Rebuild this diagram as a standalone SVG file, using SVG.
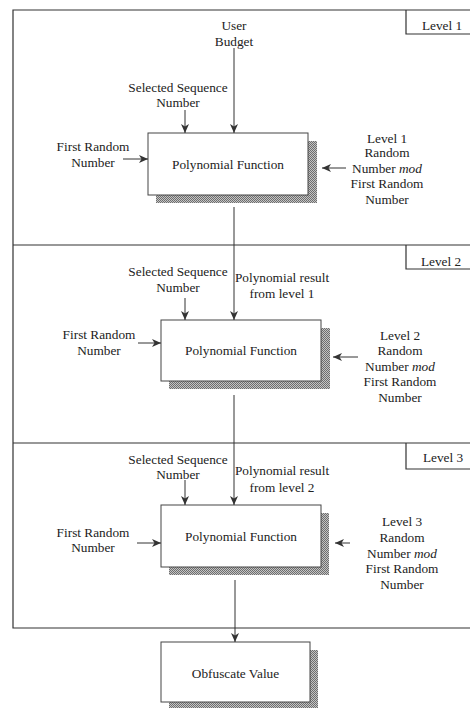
<svg xmlns="http://www.w3.org/2000/svg" width="470" height="708" viewBox="0 0 470 708">
  <style>
    text { font-family: "Liberation Serif", "Times New Roman", serif; font-size: 13.3px; fill: #222; text-anchor: middle; }
    .frame { fill: none; stroke: #333; stroke-width: 1.2; }
    .box { fill: #fff; stroke: #444; stroke-width: 1; }
    .shadow { fill: url(#hatch); }
    .conn { fill: none; stroke: #333; stroke-width: 1; marker-end: url(#arrow); }
  </style>
  <defs>
    <pattern id="hatch" width="2" height="2" patternUnits="userSpaceOnUse">
      <rect width="2" height="2" fill="#c4c4c4"/>
      <rect width="1" height="1" fill="#6e6e6e"/>
      <rect x="1" y="1" width="1" height="1" fill="#6e6e6e"/>
    </pattern>
    <marker id="arrow" markerUnits="userSpaceOnUse" markerWidth="9" markerHeight="8" refX="9" refY="4" orient="auto">
      <path d="M0,0 L9,4 L0,8 L2.5,4 z" fill="#333"/>
    </marker>
  </defs>

  <rect width="470" height="708" fill="#fff"/>

  <!-- level frames -->
  <g id="frame">
    <path class="frame" d="M470,10 H13 V628 H470"/>
    <path class="frame" d="M13,245 H470"/>
    <path class="frame" d="M13,443 H470"/>
  </g>
  <g id="level1-tag">
    <path class="frame" d="M406,10 V34 H470"/>
    <text x="442" y="29.5">Level 1</text>
  </g>
  <g id="level2-tag">
    <path class="frame" d="M406,245 V269 H470"/>
    <text x="441" y="265.5">Level 2</text>
  </g>
  <g id="level3-tag">
    <path class="frame" d="M406,443 V469 H470"/>
    <text x="443" y="461.5">Level 3</text>
  </g>

  <!-- function boxes -->
  <g id="poly1">
    <rect class="shadow" x="156" y="141" width="161" height="62"/>
    <rect class="box" x="148" y="133" width="160" height="62"/>
    <text x="228" y="168.5">Polynomial Function</text>
  </g>
  <g id="poly2">
    <rect class="shadow" x="169" y="328" width="161" height="61"/>
    <rect class="box" x="161" y="320" width="160" height="61"/>
    <text x="241" y="354.5">Polynomial Function</text>
  </g>
  <g id="poly3">
    <rect class="shadow" x="169" y="513" width="160" height="62"/>
    <rect class="box" x="161" y="505" width="160" height="62"/>
    <text x="241" y="540.5">Polynomial Function</text>
  </g>
  <g id="obfuscate">
    <rect class="shadow" x="169" y="650" width="149" height="58"/>
    <rect class="box" x="161" y="642" width="149" height="60"/>
    <text x="235.5" y="677.5">Obfuscate Value</text>
  </g>

  <!-- input labels -->
  <g id="level1-inputs">
    <text x="234" y="29.5">User</text>
    <text x="234" y="46">Budget</text>
    <text x="178" y="91.5">Selected Sequence</text>
    <text x="178" y="106.5">Number</text>
    <text x="93" y="151">First Random</text>
    <text x="93" y="167">Number</text>
    <text x="387" y="142.5">Level 1</text>
    <text x="387" y="156.5">Random</text>
    <text x="387" y="172.5">Number <tspan font-style="italic">mod</tspan></text>
    <text x="387" y="188">First Random</text>
    <text x="387" y="204">Number</text>
  </g>
  <g id="level2-inputs">
    <text x="178" y="275.5">Selected Sequence</text>
    <text x="178" y="291.5">Number</text>
    <text x="282" y="281.5">Polynomial result</text>
    <text x="282" y="297.5">from level 1</text>
    <text x="99" y="338.5">First Random</text>
    <text x="99" y="354.5">Number</text>
    <text x="400" y="339.5">Level 2</text>
    <text x="400" y="355">Random</text>
    <text x="400" y="370.5">Number <tspan font-style="italic">mod</tspan></text>
    <text x="400" y="386">First Random</text>
    <text x="400" y="401.5">Number</text>
  </g>
  <g id="level3-inputs">
    <text x="178" y="463.5">Selected Sequence</text>
    <text x="178" y="478.5">Number</text>
    <text x="282" y="475">Polynomial result</text>
    <text x="282" y="491.5">from level 2</text>
    <text x="93" y="536.5">First Random</text>
    <text x="93" y="551.5">Number</text>
    <text x="402" y="525.5">Level 3</text>
    <text x="402" y="541.5">Random</text>
    <text x="402" y="557.5">Number <tspan font-style="italic">mod</tspan></text>
    <text x="402" y="572.5">First Random</text>
    <text x="402" y="588.5">Number</text>
  </g>

  <!-- connectors -->
  <g id="connectors">
    <path class="conn" d="M234,48 V133"/>
    <path class="conn" d="M185,110 V133"/>
    <path class="conn" d="M123,159 H148"/>
    <path class="conn" d="M346,168 H322"/>
    <path class="conn" d="M234,207 V320"/>
    <path class="conn" d="M185,298 V320"/>
    <path class="conn" d="M138,343 H161"/>
    <path class="conn" d="M358,357 H333"/>
    <path class="conn" d="M234,395 V505"/>
    <path class="conn" d="M185,480 V505"/>
    <path class="conn" d="M137,543 H161"/>
    <path class="conn" d="M350,543 H335"/>
    <path class="conn" d="M235,580 V642"/>
  </g>
</svg>
